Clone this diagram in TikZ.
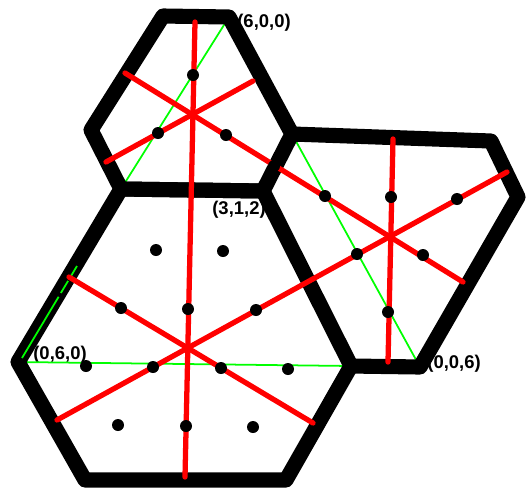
\documentclass[tikz,border=0pt]{standalone}
\usepackage{fontspec}
\setmainfont{Liberation Sans}
\begin{document}
\begin{tikzpicture}[x=0.02cm,y=-0.02cm, every node/.style={font=\bfseries\fontsize{10.5}{12}\selectfont, inner sep=0pt, anchor=base west},
  facet/.style={line width=8.6pt, line join=round, line cap=round},
  mirror/.style={red, line width=3pt, line cap=round},
  slice/.style={green, line width=1pt}]
  \useasboundingbox (0,0) rectangle (527,488);
  \coordinate (T1) at (163,16);
  \coordinate (T2) at (229,17);
  \coordinate (T3) at (292,134);
  \coordinate (T4) at (263,191);
  \coordinate (T5) at (121,189);
  \coordinate (T6) at (91,130);
  \coordinate (R2) at (491,141);
  \coordinate (R3) at (518,197);
  \coordinate (R4) at (420,367);
  \coordinate (B3) at (351,366);
  \coordinate (B4) at (286,480);
  \coordinate (B5) at (85,480);
  \coordinate (B6) at (18,362);
  \node (p600) at (237,27) {(6,0,0)};
  \node (p312) at (212,214) {(3,1,2)};
  \node (p060) at (33,359) {(0,6,0)};
  \node (p006) at (427,368) {(0,0,6)};
  \draw[slice] (T2) -- (T5);
  \draw[slice] (T3) -- (R4);
  \draw[slice] (B6) -- (B3);
  \draw[facet] (T1) -- (T2) -- (T3) -- (T4) -- (T5) -- (T6) -- cycle;
  \draw[facet] (T3) -- (R2) -- (R3) -- (R4) -- (B3);
  \draw[facet] (T5) -- (T4) -- (B3) -- (B4) -- (B5) -- (B6) -- cycle;
  \coordinate (g1) at (77,266);
  \coordinate (g2) at (22,358);
  \draw[slice, dash pattern=on 7.4pt off 2.5pt on 8pt off 2.5pt on 60pt] (g1) -- (g2);
  \coordinate (m1a) at (195,22);  \coordinate (m1b) at (185,477);
  \coordinate (m2a) at (125,73);  \coordinate (m2b) at (463,282);
  \coordinate (m3a) at (57,420);  \coordinate (m3b) at (507,172);
  \coordinate (m4a) at (106,162); \coordinate (m4b) at (253,81);
  \coordinate (m5a) at (69,277);  \coordinate (m5b) at (313,423);
  \coordinate (m6a) at (393,139); \coordinate (m6b) at (388,362);
  \foreach \m in {1,...,6}
    \draw[mirror] (m\m a) -- (m\m b);
  \foreach \p in {(193,75),(158,133),(226,135),(274,166),
                  (325,196),(391,197),(457,199),(357,254),(423,255),(388,312),
                  (156,250),(223,251),(121,308),(188,309),(256,310),
                  (86,366),(153,367),(221,368),(288,369),
                  (118,425),(186,426),(253,427)}
    \fill \p circle (0.12cm);
\end{tikzpicture}
\end{document}
